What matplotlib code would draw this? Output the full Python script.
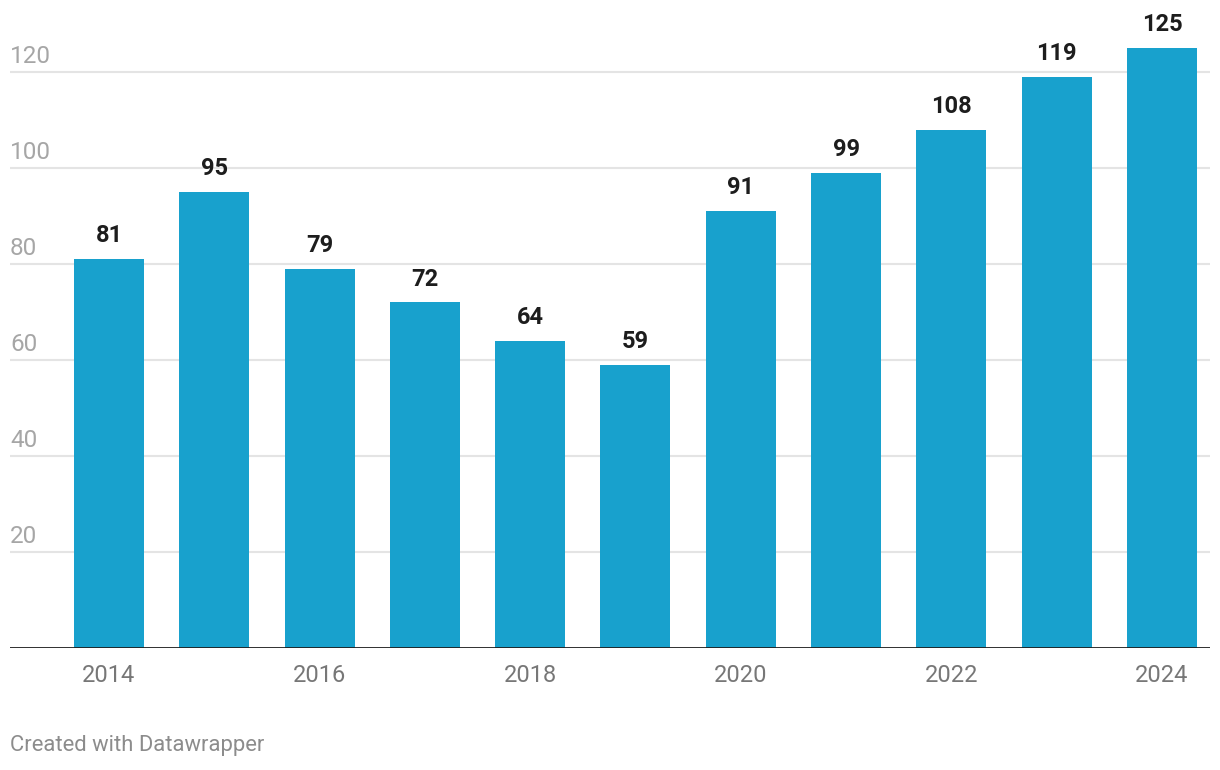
import matplotlib
matplotlib.use("Agg")
import matplotlib.pyplot as plt

plt.rcParams['font.family'] = ['Roboto', 'DejaVu Sans']

years = [2014, 2015, 2016, 2017, 2018, 2019, 2020, 2021, 2022, 2023, 2024]
values = [81, 95, 79, 72, 64, 59, 91, 99, 108, 119, 125]
xticks = [2014, 2016, 2018, 2020, 2022, 2024]
yticks = [20, 40, 60, 80, 100, 120]

W, H = 1220, 770
fig = plt.figure(figsize=(W / 100, H / 100), dpi=100)
# axes box in pixels: x 10..1210, y 0..648 from top
ax = fig.add_axes([10 / W, (H - 648) / H, 1200 / W, 648 / H])

ax.bar(years, values, width=0.665, color='#18a1cd', zorder=2)

for x, v in zip(years, values):
    ax.annotate(str(v), (x, v), xytext=(0, 8.5), textcoords='offset points',
                ha='center', va='bottom', fontsize=17, fontweight='bold',
                color='#1d1d1d')

ax.set_xlim(years[0] - 0.94, years[0] + 10.456)
ax.set_ylim(0, 135)

for y in yticks:
    ax.axhline(y, color='#e4e4e4', lw=1.5, zorder=1)
    ax.annotate(str(y), (0, y), xycoords=('axes fraction', 'data'),
                xytext=(0, 3), textcoords='offset points',
                ha='left', va='bottom', fontsize=17.5, color='#a6a6a6')
ax.axhline(0, color='#1d1d1d', lw=2, zorder=3)

ax.set_yticks([])
ax.set_xticks(xticks)
ax.set_xticklabels([str(t) for t in xticks], fontsize=17, color='#777777')
ax.tick_params(axis='x', length=0, pad=11.5)
for s in ax.spines.values():
    s.set_visible(False)

fig.text(10 / W, 1 - 746 / H, 'Created with Datawrapper', fontsize=15.8,
         color='#8c8c8c', ha='left', va='center')

fig.savefig('out.png', dpi=100)
